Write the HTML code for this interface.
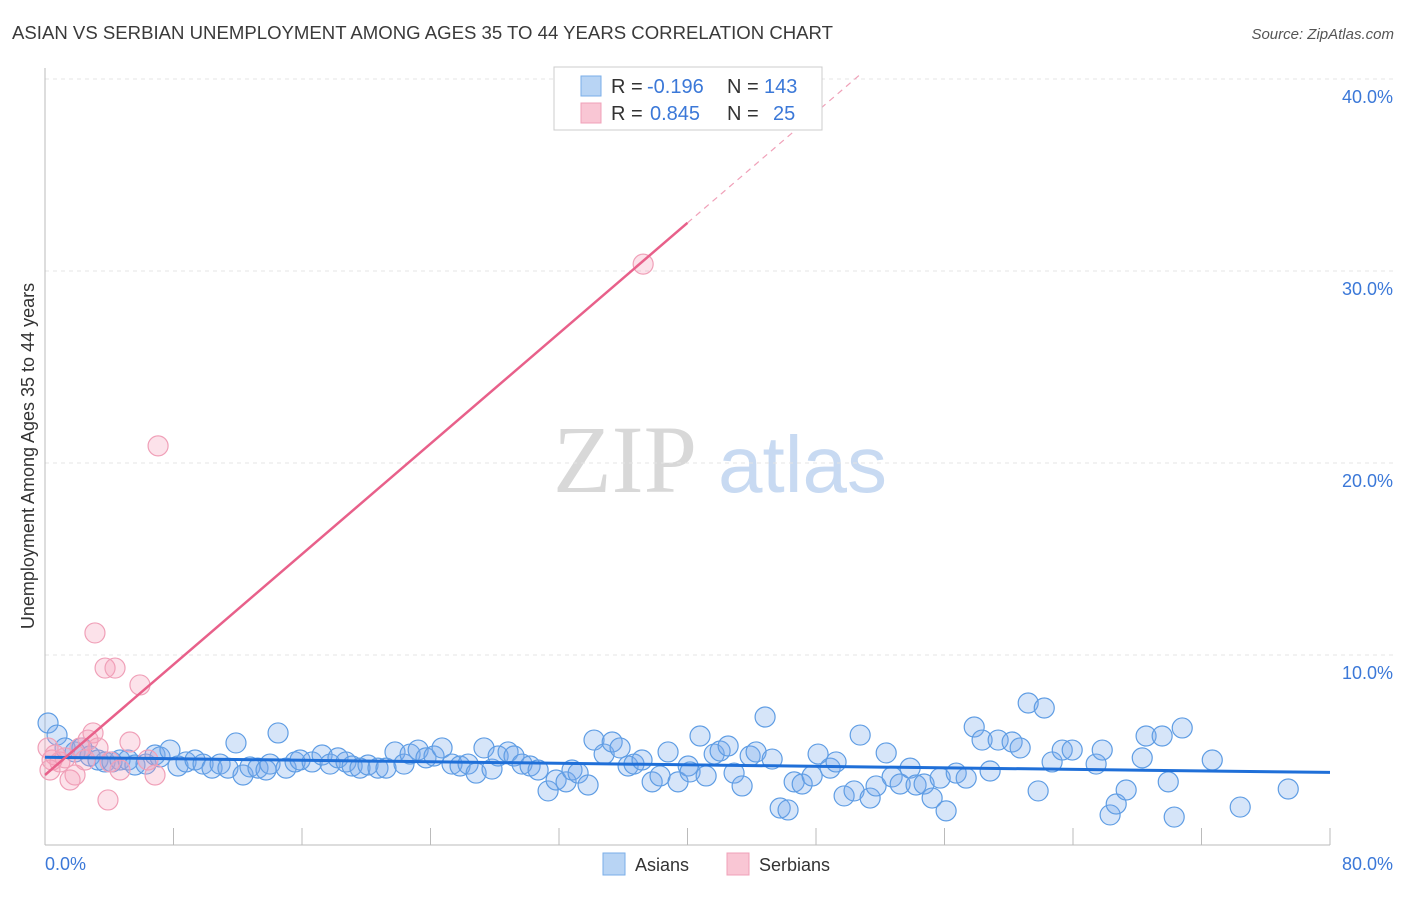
<!DOCTYPE html>
<html><head><meta charset="utf-8"><style>
body{margin:0;background:#fff;font-family:"Liberation Sans",sans-serif;}
</style></head><body>
<svg id="c" width="1406" height="892" xmlns="http://www.w3.org/2000/svg">
<text x="12" y="39" font-size="18" fill="#3a3a3a" textLength="821" lengthAdjust="spacingAndGlyphs">ASIAN VS SERBIAN UNEMPLOYMENT AMONG AGES 35 TO 44 YEARS CORRELATION CHART</text>
<text x="1394" y="39" font-size="15" fill="#555" font-style="italic" text-anchor="end">Source: ZipAtlas.com</text>
<g>
<text x="553" y="492" font-size="96" font-family="Liberation Serif,serif" fill="#d8d8d8">ZIP</text>
<text x="718" y="492" font-size="80" fill="#c8daf2">atlas</text>
</g>
<g id="grid"></g>
<line x1="45" y1="68" x2="45" y2="845" stroke="#bbb"/>
<line x1="45" y1="845" x2="1330" y2="845" stroke="#bbb"/>
<text transform="translate(34,456) rotate(-90)" font-size="18" fill="#333" text-anchor="middle">Unemployment Among Ages 35 to 44 years</text>
<text x="45" y="870" font-size="18" fill="#3b78d8">0.0%</text>
<text x="1393" y="870" font-size="18" fill="#3b78d8" text-anchor="end">80.0%</text>
<g id="pts"></g>
<g id="lines"></g>
<g>
<rect x="554" y="67" width="268" height="63" fill="#fff" stroke="#ccc"/>
<rect x="581" y="76" width="20" height="20" fill="#b8d4f4" stroke="#7aaee8"/>
<rect x="581" y="103" width="20" height="20" fill="#f9c6d4" stroke="#f0a0b8"/>
<text x="611" y="93" font-size="20" fill="#333">R =</text>
<text x="647" y="93" font-size="20" fill="#3b78d8">-0.196</text>
<text x="727" y="93" font-size="20" fill="#333">N =</text>
<text x="764" y="93" font-size="20" fill="#3b78d8">143</text>
<text x="611" y="120" font-size="20" fill="#333">R =</text>
<text x="650" y="120" font-size="20" fill="#3b78d8">0.845</text>
<text x="727" y="120" font-size="20" fill="#333">N =</text>
<text x="773" y="120" font-size="20" fill="#3b78d8">25</text>
</g>
<g>
<rect x="603" y="853" width="22" height="22" fill="#b8d4f4" stroke="#7aaee8"/>
<text x="635" y="871" font-size="18" fill="#333">Asians</text>
<rect x="727" y="853" width="22" height="22" fill="#f9c6d4" stroke="#f0a0b8"/>
<text x="759" y="871" font-size="18" fill="#333">Serbians</text>
</g>
</svg>
<script>
const yTicks=[10,20,30,40];
const yTickLabels=["10.0%","20.0%","30.0%","40.0%"];
const asianX=[0.19,0.75,1.25,1.87,2.30,2.80,3.30,3.74,4.17,4.67,5.17,5.60,6.29,6.85,7.16,7.78,8.28,8.78,9.34,9.84,10.40,10.90,11.39,11.89,12.33,12.76,13.26,13.76,14.01,14.51,15.01,15.57,15.88,16.63,17.25,17.75,18.24,18.74,19.12,19.61,20.11,20.73,21.23,21.79,22.35,22.73,23.23,23.72,24.22,24.72,25.34,25.84,26.34,26.84,27.33,27.83,28.21,28.83,29.20,29.70,30.20,30.70,31.32,31.82,32.44,32.81,33.19,33.81,34.18,34.81,35.31,35.80,36.30,36.67,37.17,37.80,38.29,38.79,39.41,40.04,40.16,40.78,41.16,41.66,42.03,42.53,42.90,43.40,43.90,44.27,44.83,45.27,45.77,46.26,46.64,47.14,47.76,48.13,48.88,49.25,49.75,50.37,50.75,51.37,51.74,52.37,52.74,53.24,53.86,54.23,54.73,55.23,55.73,56.10,56.73,57.35,57.85,58.34,58.84,59.34,60.21,60.71,61.21,61.83,62.21,62.70,63.33,63.95,65.44,65.82,66.31,66.69,67.31,68.31,68.55,69.55,69.93,70.30,70.80,72.67,74.41,77.40];
const asianY=[6.46,5.83,5.16,4.95,5.16,4.74,4.53,4.43,4.43,4.53,4.53,4.27,4.32,4.79,4.69,5.05,4.22,4.43,4.53,4.32,4.11,4.32,4.11,5.42,3.75,4.17,4.11,4.01,4.32,5.94,4.11,4.43,4.53,4.43,4.79,4.32,4.64,4.43,4.22,4.11,4.27,4.11,4.11,4.95,4.32,4.84,5.05,4.64,4.74,5.16,4.32,4.22,4.32,3.85,5.16,4.06,4.74,4.95,4.74,4.32,4.22,4.01,2.92,3.49,3.39,4.01,3.85,3.23,5.57,4.84,5.47,5.16,4.22,4.32,4.53,3.39,3.70,4.95,3.39,4.22,3.91,5.78,3.70,4.84,5.00,5.26,3.85,3.18,4.74,4.95,6.77,4.58,2.03,1.93,3.39,3.28,3.70,4.84,4.11,4.43,2.66,2.92,5.83,2.55,3.18,4.90,3.65,3.28,4.11,3.23,3.28,2.55,3.59,1.88,3.85,3.59,6.25,5.57,3.96,5.57,5.47,5.16,7.50,2.92,7.24,4.43,5.05,5.05,4.32,5.05,1.67,2.24,2.97,4.64,5.78,5.78,3.39,1.56,6.20,4.53,2.08,3.02];
const serbX=[0.19,0.44,0.62,0.93,1.25,1.56,1.87,2.18,2.49,2.68,2.99,3.11,3.30,3.74,4.05,4.36,4.67,3.92,5.29,5.91,6.41,6.85,7.04,37.24,0.31];
const serbY=[5.16,4.53,4.79,4.43,4.64,3.49,3.75,5.16,4.53,5.57,5.94,11.15,5.16,9.32,4.43,9.32,4.01,2.45,5.47,8.44,4.53,3.75,20.89,30.36,4.01];
const X0=45,X1=1330,Y0=847,PPU=19.2;
const sx=v=>X0+v*(X1-X0)/80, sy=v=>Y0-v*PPU;
const NS='http://www.w3.org/2000/svg';
function mk(tag,attrs,parent){const e=document.createElementNS(NS,tag);for(const k in attrs)e.setAttribute(k,attrs[k]);parent.appendChild(e);return e;}
const grid=document.getElementById('grid');
yTicks.forEach((t,i)=>{
 const l=mk('line',{x1:45,x2:1395,y1:sy(t),y2:sy(t),stroke:'#e4e4e4','stroke-dasharray':'4,4'},grid);
 
 
 const tx=mk('text',{x:1393,y:sy(t)+24,'font-size':18,fill:'#3b78d8','text-anchor':'end'},grid);
 tx.textContent=yTickLabels[i];
 
 
});
for(let i=1;i<=10;i++){
 const l=mk('line',{x1:sx(i*8),x2:sx(i*8),y1:828,y2:845,stroke:'#bbb'},grid);
 
 
}
const pts=document.getElementById('pts');
asianX.forEach((x,i)=>{
 const c=mk('circle',{cx:sx(x),cy:sy(asianY[i]),r:10,fill:'rgba(120,170,235,0.3)',stroke:'#5f9de4','stroke-width':1.2},pts);
 
 
});
serbX.forEach((x,i)=>{
 const c=mk('circle',{cx:sx(x),cy:sy(serbY[i]),r:10,fill:'rgba(245,160,185,0.3)',stroke:'#f0a0b8','stroke-width':1.2},pts);
 
 
});
function reg(xs,ys){const n=xs.length;let mx=0,my=0;for(let i=0;i<n;i++){mx+=xs[i];my+=ys[i];}mx/=n;my/=n;let sxy=0,sxx=0;for(let i=0;i<n;i++){sxy+=(xs[i]-mx)*(ys[i]-my);sxx+=(xs[i]-mx)**2;}const b=sxy/sxx;return [my-b*mx,b];}
const lines=document.getElementById('lines');
const [ab,bb]=reg(asianX,asianY);
let l=mk('line',{x1:sx(0),y1:sy(ab),x2:sx(80),y2:sy(ab+bb*80),stroke:'#1f6fd8','stroke-width':3},lines);


const [ap,bp]=reg(serbX,serbY);
const xEnd=40, xTop=Math.min(80,(40.2-ap)/bp);
l=mk('line',{x1:sx(0),y1:sy(ap),x2:sx(xEnd),y2:sy(ap+bp*xEnd),stroke:'#e8608a','stroke-width':2.5},lines);


l=mk('line',{x1:sx(xEnd),y1:sy(ap+bp*xEnd),x2:sx(xTop),y2:sy(ap+bp*xTop),stroke:'#f0a0b8','stroke-width':1.2,'stroke-dasharray':'6,5'},lines);


</script>
</body></html>
